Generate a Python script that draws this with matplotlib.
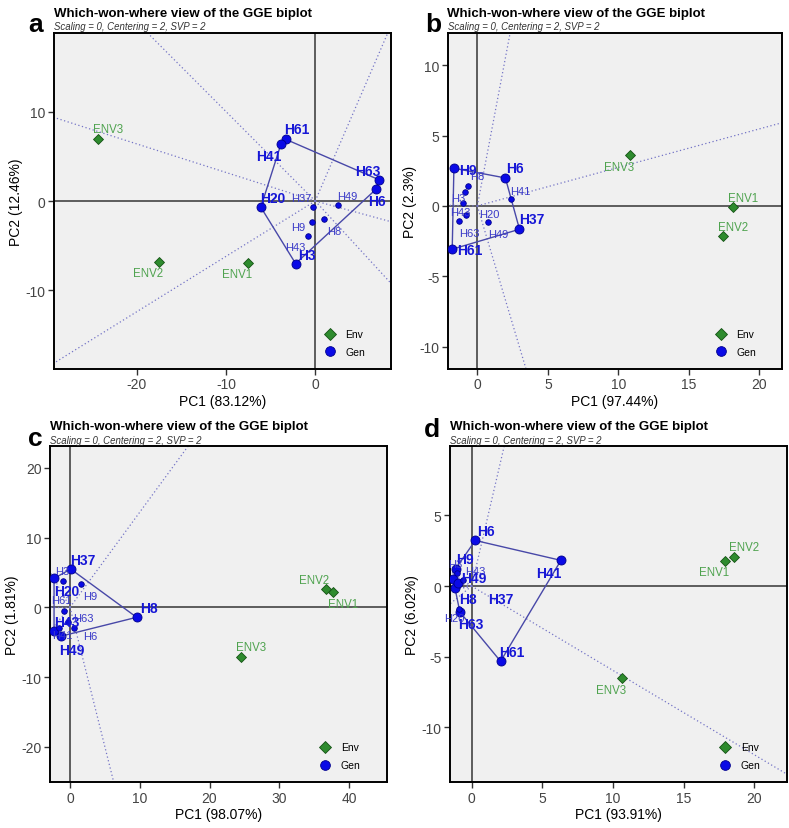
import numpy as np
import matplotlib
matplotlib.use("Agg")
import matplotlib.pyplot as plt
from matplotlib.lines import Line2D

plt.rcParams['font.family'] = ['Liberation Sans', 'DejaVu Sans']
plt.rcParams['axes.unicode_minus'] = False

# ---- data ----
a_gen = ['H61', 'H41', 'H63', 'H6', 'H20', 'H3', 'H37', 'H49', 'H8', 'H9', 'H43']
a_gen_x = [-3.3, -3.85, 7.1, 6.8, -6.1, -2.2, -0.3, 2.5, 1.0, -0.4, -0.8]
a_gen_y = [6.9, 6.35, 2.4, 1.3, -0.7, -7.0, -0.7, -0.4, -2.05, -2.4, -3.95]
a_hull = ['H61', 'H63', 'H6', 'H3', 'H20', 'H41']
a_bold = a_hull
a_env = ['ENV1', 'ENV2', 'ENV3']
a_env_x = [-7.5, -17.5, -24.4]
a_env_y = [-6.9, -6.8, 6.9]
a_pc = ['83.12', '12.46']

b_gen = ['H9', 'H6', 'H37', 'H61', 'H41', 'H8', 'H3', 'H43', 'H20', 'H63', 'H49']
b_gen_x = [-1.66, 1.99, 2.99, -1.78, 2.37, -0.69, -0.88, -1.02, -0.81, -1.28, 0.78]
b_gen_y = [2.68, 1.99, -1.66, -3.08, 0.47, 1.42, 1.02, 0.24, -0.62, -1.09, -1.16]
b_hull = ['H9', 'H6', 'H37', 'H61']
b_bold = b_hull
b_env = ['ENV1', 'ENV2', 'ENV3']
b_env_x = [18.1, 17.45, 10.85]
b_env_y = [-0.1, -2.15, 3.65]
b_pc = ['97.44', '2.3']

c_gen = ['H37', 'H20', 'H43', 'H49', 'H8', 'H3', 'H9', 'H61', 'H63', 'H41', 'H6']
c_gen_x = [0.10, -2.29, -2.29, -1.34, 9.55, -1.0, 1.53, -0.86, -0.29, -1.6, 0.5]
c_gen_y = [5.49, 4.15, -3.34, -4.15, -1.43, 3.82, 3.34, -0.48, -2.15, -3.0, -2.9]
c_hull = ['H37', 'H8', 'H49', 'H43', 'H20']
c_bold = c_hull
c_env = ['ENV1', 'ENV2', 'ENV3']
c_env_x = [37.76, 36.75, 24.58]
c_env_y = [2.24, 2.63, -7.11]
c_pc = ['98.07', '1.81']

d_gen = ['H6', 'H41', 'H61', 'H63', 'H8', 'H49', 'H9', 'H37', 'H20', 'H3', 'H43']
d_gen_x = [0.26, 6.32, 2.05, -0.83, -1.18, -1.30, -1.13, -0.94, -0.92, -1.05, -0.6]
d_gen_y = [3.23, 1.82, -5.33, -1.84, -0.14, 0.47, 1.23, 0.21, -1.63, 0.95, 0.4]
d_hull = ['H6', 'H41', 'H61', 'H63', 'H8', 'H49', 'H9']
d_bold = d_hull + ['H37']
d_env = ['ENV1', 'ENV2', 'ENV3']
d_env_x = [17.92, 18.54, 10.64]
d_env_y = [1.77, 2.03, -6.51]
d_pc = ['93.91', '6.02']

# ---- layout ----
W, H = 789, 829
fig = plt.figure(figsize=(W / 100, H / 100), dpi=100)

def fx(p):
    return p / W

def fy(p):
    return 1 - p / H

GEN_C = '#0A0AE6'
GEN_EDGE = '#00008B'
ENV_C = '#2E8B2E'
ENV_EDGE = '#145214'
ENVTXT = '#4FA34F'
BOLDTXT = '#1717D6'
SMALLTXT = '#3A3AC8'
HULL_C = '#4848A8'
RAY_C = '#7474C6'

def panel(rect, gen, gx, gy, hull, bold, env, ex, ey, pc, offs,
          xlim, ylim, xticks, yticks):
    l, t, r, b = rect
    ax = fig.add_axes([fx(l), fy(b), (r - l) / W, (b - t) / H])
    ax.set_facecolor('#F0F0F0')
    for s in ax.spines.values():
        s.set_color('black')
        s.set_linewidth(1.4)
    ax.axhline(0, color='#444444', lw=1.2, zorder=1)
    ax.axvline(0, color='#444444', lw=1.2, zorder=1)

    pos = {g: np.array([x, y]) for g, x, y in zip(gen, gx, gy)}
    pts = np.array([pos[h] for h in hull])
    n = len(pts)
    # rays from the origin, perpendicular to each side of the polygon
    for k in range(n):
        p1, p2 = pts[k], pts[(k + 1) % n]
        d = p2 - p1
        tt = -(p1 @ d) / (d @ d)
        f = p1 + tt * d
        u = f / np.linalg.norm(f)
        ax.plot([0, u[0] * 300], [0, u[1] * 300], ls=(0, (1, 2)),
                color=RAY_C, lw=0.9, zorder=2)
    closed = np.vstack([pts, pts[:1]])
    ax.plot(closed[:, 0], closed[:, 1], color=HULL_C, lw=1.0, zorder=3)

    for g in gen:
        big = g in bold
        ax.plot(*pos[g], 'o', ms=6.5 if big else 4, color=GEN_C,
                mec=GEN_EDGE, mew=0.6, zorder=5)
        dx, dy = offs.get(g, (10, 9))
        ax.annotate(g, pos[g], xytext=(dx, dy), textcoords='offset pixels',
                    ha='center', va='center', zorder=6,
                    fontsize=10 if big else 8,
                    fontweight='bold' if big else 'normal',
                    color=BOLDTXT if big else SMALLTXT)
    for e, x, y in zip(env, ex, ey):
        ax.plot(x, y, 'D', ms=4.8, color=ENV_C, mec=ENV_EDGE, mew=0.6, zorder=5)
        dx, dy = offs.get(e, (10, 9))
        ax.annotate(e, (x, y), xytext=(dx, dy), textcoords='offset pixels',
                    ha='center', va='center', fontsize=8.3, color=ENVTXT, zorder=6)

    ax.set_xlim(xlim)
    ax.set_ylim(ylim)
    ax.set_xticks(xticks)
    ax.set_yticks(yticks)
    ax.tick_params(length=4, width=1, color='#333333', labelsize=10,
                   labelcolor='#444444', pad=2)
    ax.set_xlabel('PC1 (%s%%)' % pc[0], fontsize=10, labelpad=2)
    ax.set_ylabel('PC2 (%s%%)' % pc[1], fontsize=10, labelpad=2)

    hs = [Line2D([], [], ls='', marker='D', ms=6, color=ENV_C, mec=ENV_EDGE, mew=0.6),
          Line2D([], [], ls='', marker='o', ms=7, color=GEN_C, mec=GEN_EDGE, mew=0.6)]
    ax.legend(hs, ['Env', 'Gen'], loc='lower right',
              bbox_to_anchor=(1 - 26 / (r - l), 12 / (b - t)),
              frameon=False, fontsize=7.5, handlelength=1.0,
              handletextpad=1.0, labelspacing=0.75, borderpad=0,
              borderaxespad=0)
    return ax

a_off = {'ENV1': (-11, -11), 'ENV2': (-11, -11), 'ENV3': (10, 10),
         'H61': (11, 10), 'H41': (-12, -12), 'H63': (-11, 9), 'H6': (1, -12),
         'H20': (12, 9), 'H3': (11, 9), 'H37': (-11, 9), 'H49': (10, 9),
         'H8': (10, -12), 'H9': (-13, -5), 'H43': (-13, -11)}
b_off = {'ENV1': (10, 9), 'ENV2': (10, 9), 'ENV3': (-11, -12),
         'H9': (14, -2), 'H6': (10, 10), 'H37': (12, 10), 'H61': (18, -1),
         'H41': (10, 8), 'H8': (10, 10), 'H3': (-7, -6), 'H43': (-3, -9),
         'H20': (23, 1), 'H63': (10, -12), 'H49': (10, -12)}
c_off = {'ENV1': (10, -12), 'ENV2': (-12, 9), 'ENV3': (10, 10),
         'H37': (12, 9), 'H20': (13, -13), 'H43': (13, 9), 'H49': (11, -14),
         'H8': (12, 9), 'H3': (-1, 10), 'H9': (9, -12), 'H61': (-3, 11),
         'H63': (15, 4), 'H41': (3, -7), 'H6': (17, -8)}
d_off = {'ENV1': (-11, -11), 'ENV2': (10, 10), 'ENV3': (-11, -12),
         'H6': (11, 9), 'H41': (-12, -13), 'H61': (11, 9), 'H63': (11, -12),
         'H9': (9, 10), 'H49': (21, 1), 'H8': (13, -11), 'H37': (42, -16),
         'H20': (-4, -9), 'H3': (-2, 9), 'H43': (12, 9)}

panel((54, 34, 391, 370), a_gen, a_gen_x, a_gen_y, a_hull, a_bold,
      a_env, a_env_x, a_env_y, a_pc, a_off,
      (-29.3, 8.5), (-18.8, 18.8), [-20, -10, 0], [-10, 0, 10])
panel((447.7, 34, 782, 370), b_gen, b_gen_x, b_gen_y, b_hull, b_bold,
      b_env, b_env_x, b_env_y, b_pc, b_off,
      (-2.1, 21.6), (-11.6, 12.3), [0, 5, 10, 15, 20], [-10, -5, 0, 5, 10])
panel((50, 447.3, 386.7, 783.3), c_gen, c_gen_x, c_gen_y, c_hull, c_bold,
      c_env, c_env_x, c_env_y, c_pc, c_off,
      (-2.87, 45.4), (-25.1, 23.1), [0, 10, 20, 30, 40], [-20, -10, 0, 10, 20])
panel((450, 447.3, 786.7, 783.3), d_gen, d_gen_x, d_gen_y, d_hull, d_bold,
      d_env, d_env_x, d_env_y, d_pc, d_off,
      (-1.53, 22.3), (-13.9, 9.9), [0, 5, 10, 15, 20], [-10, -5, 0, 5])

# titles and panel letters
title = 'Which-won-where view of the GGE biplot'
sub = 'Scaling = 0, Centering = 2, SVP = 2'
for letter, lx, lb, tx, tb, sx, sb in [
        ('a', 28.3, 31.7, 54.3, 16.7, 54.3, 30.2),
        ('b', 425.7, 31.7, 446.7, 16.7, 447.7, 30.2),
        ('c', 28.3, 445.7, 50, 430, 50, 443.8),
        ('d', 424, 436.7, 450, 430, 450, 443.8)]:
    fig.text(fx(lx), fy(lb), letter, fontsize=19, fontweight='bold',
             ha='left', va='baseline')
    fig.text(fx(tx), fy(tb), title, fontsize=9.5, fontweight='bold',
             ha='left', va='baseline')
    fig.text(fx(sx), fy(sb), sub, fontsize=6.9, style='italic',
             color='#333333', ha='left', va='baseline')

fig.savefig('out.png', dpi=100)
